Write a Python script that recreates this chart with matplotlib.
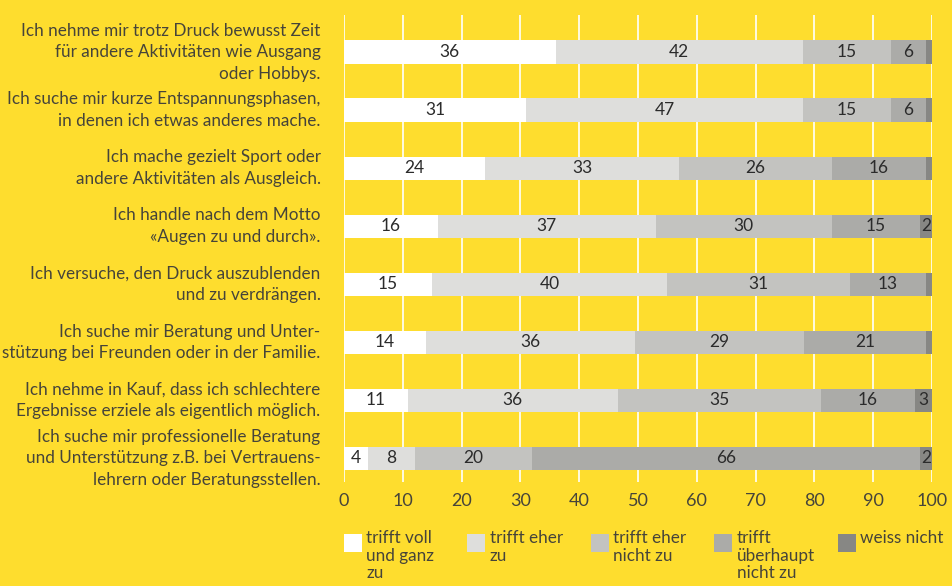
import numpy as np
import matplotlib.pyplot as plt
from matplotlib.patches import Rectangle

plt.rcParams['font.family'] = ['Lato', 'DejaVu Sans']

statements = [
    "Ich nehme mir trotz Druck bewusst Zeit\nfür andere Aktivitäten wie Ausgang\noder Hobbys.",
    "Ich suche mir kurze Entspannungsphasen,\nin denen ich etwas anderes mache.",
    "Ich mache gezielt Sport oder\nandere Aktivitäten als Ausgleich.",
    "Ich handle nach dem Motto\n«Augen zu und durch».",
    "Ich versuche, den Druck auszublenden\nund zu verdrängen.",
    "Ich suche mir Beratung und Unter-\nstützung bei Freunden oder in der Familie.",
    "Ich nehme in Kauf, dass ich schlechtere\nErgebnisse erziele als eigentlich möglich.",
    "Ich suche mir professionelle Beratung\nund Unterstützung z.B. bei Vertrauens-\nlehrern oder Beratungsstellen.",
]

voll_zu = [36, 31, 24, 16, 15, 14, 11, 4]
eher_zu = [42, 47, 33, 37, 40, 36, 36, 8]
eher_nicht = [15, 15, 26, 30, 31, 29, 35, 20]
gar_nicht = [6, 6, 16, 15, 13, 21, 16, 66]
weiss_nicht = [1, 1, 1, 2, 1, 1, 3, 2]

categories = ["trifft voll\nund ganz\nzu", "trifft eher\nzu", "trifft eher\nnicht zu",
              "trifft\nüberhaupt\nnicht zu", "weiss nicht"]
colors = ["#FFFFFF", "#DEDEDC", "#C3C3C0", "#ABABA8", "#878784"]
bg = "#FEDD2E"
txt = "#46443a"

data = np.array([voll_zu, eher_zu, eher_nicht, gar_nicht, weiss_nicht], dtype=float)
widths = data / data.sum(axis=0) * 100

fig = plt.figure(figsize=(9.53, 5.86), dpi=100, facecolor=bg)
ax = fig.add_axes([0.361, 0.177, 0.617, 0.797])
ax.set_facecolor(bg)

y = np.arange(len(statements))
left = np.zeros(len(statements))
for k in range(len(categories)):
    ax.barh(y, widths[k], left=left, height=0.41, color=colors[k], zorder=3)
    for i in range(len(statements)):
        v = int(data[k, i])
        if k < 4 or v >= 2:
            ax.text(left[i] + widths[k, i] / 2, y[i], str(v), ha='center', va='center',
                    fontsize=12.5, color="#2b2b2b", zorder=4)
    left += widths[k]

ax.set_xlim(0, 100)
ax.set_ylim(7.41, -0.64)
ax.set_xticks(np.arange(0, 101, 10))
ax.set_yticks([])
ax.grid(axis='x', color='white', linewidth=1.2, zorder=1)
ax.tick_params(axis='x', length=0, labelsize=13, labelcolor=txt, pad=8)
for s in ax.spines.values():
    s.set_visible(False)

for i, s in enumerate(statements):
    ax.text(-4, y[i], s, ha='right', va='center', fontsize=12.3, color=txt,
            linespacing=1.45, clip_on=False)

# legend
for k, lab in enumerate(categories):
    x0 = 0.361 + k * 0.1295
    fig.patches.append(Rectangle((x0, 0.058), 0.0189, 0.030, transform=fig.transFigure,
                                 facecolor=colors[k], edgecolor='none'))
    fig.text(x0 + 0.0235, 0.095, lab, ha='left', va='top', fontsize=12.3, color=txt,
             linespacing=1.12)

fig.savefig("out.png", dpi=100, facecolor=bg)
